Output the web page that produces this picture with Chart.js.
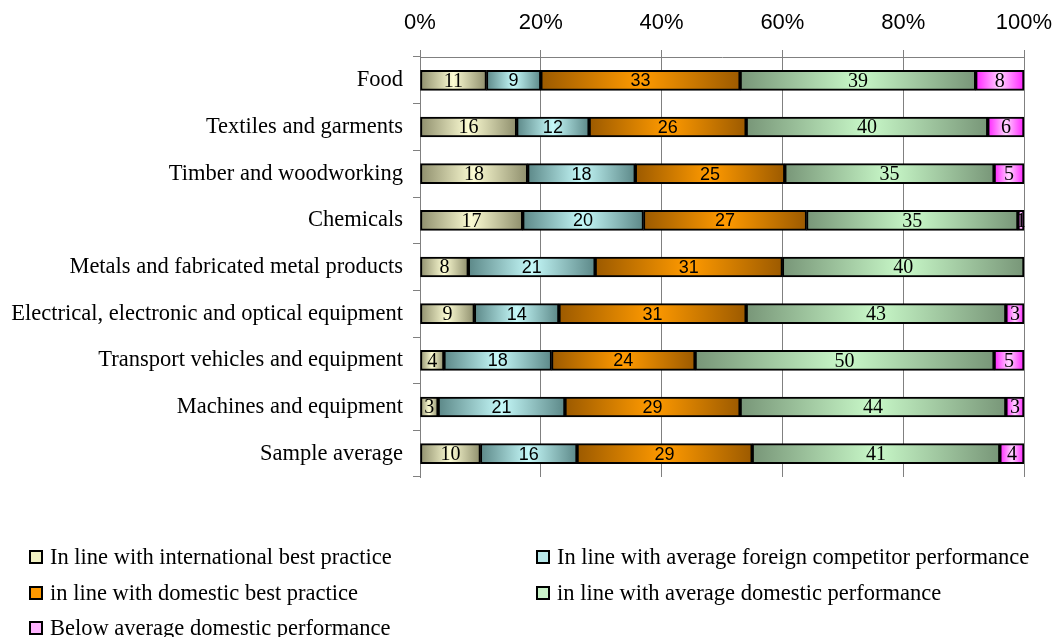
<!DOCTYPE html>
<html>
<head>
<meta charset="utf-8">
<script src="https://cdn.jsdelivr.net/npm/chart.js@4/dist/chart.umd.min.js"></script>
<style>
  html, body { margin: 0; padding: 0; background: #fff; }
  #wrap { width: 1055px; height: 637px; position: relative; }
</style>
</head>
<body>
<div id="wrap"><canvas id="chart" width="1055" height="637"></canvas></div>
<script>
const categories = [
  'Food',
  'Textiles and garments',
  'Timber and woodworking',
  'Chemicals',
  'Metals and fabricated metal products',
  'Electrical, electronic and optical equipment',
  'Transport vehicles and equipment',
  'Machines and equipment',
  'Sample average'
];
const intlBest     = [11, 16, 18, 17, 8, 9, 4, 3, 10];
const foreignAvg   = [9, 12, 18, 20, 21, 14, 18, 21, 16];
const domesticBest = [33, 26, 25, 27, 31, 31, 24, 29, 29];
const domesticAvg  = [39, 40, 35, 35, 40, 43, 50, 44, 41];
const belowAvg     = [8, 6, 5, 1, 0, 3, 5, 3, 4];
const tickLabels   = ['0%', '20%', '40%', '60%', '80%', '100%'];

const seriesNames = [
  'In line with international best practice',
  'In line with average foreign competitor performance',
  'in line with domestic best practice',
  'in line with average domestic performance',
  'Below average domestic performance'
];
const series = [intlBest, foreignAvg, domesticBest, domesticAvg, belowAvg];
// [edge, middle] colours of each bar gradient
const palette = [
  ['#8e8e6c', '#fbfbd2'],
  ['#5c8888', '#c4f8f8'],
  ['#9c5a00', '#ff9a00'],
  ['#789678', '#c8f8c8'],
  ['#ff22ff', '#ffd4ff']
];
const legendFill = ['#f2f2c4', '#b8e8ea', '#ff9900', '#c8f2c8', '#ffb4ff'];
const serifSeries = [true, false, false, true, true];

// 100% stacked: each row is scaled to its own total
const totals = categories.map((c, j) => series.reduce((s, arr) => s + arr[j], 0));
const shares = series.map(arr => arr.map((v, j) => v / totals[j] * 100));

function gradientFill(i) {
  return function (ctx) {
    const chart = ctx.chart;
    const x = chart.scales.x;
    if (ctx.type !== 'data' || !x || !chart.chartArea) return palette[i][1];
    const j = ctx.dataIndex;
    let start = 0;
    for (let k = 0; k < i; k++) start += shares[k][j];
    const x0 = x.getPixelForValue(start);
    const x1 = x.getPixelForValue(start + shares[i][j]);
    if (!isFinite(x0) || !isFinite(x1) || x1 - x0 < 1) return palette[i][1];
    const g = chart.ctx.createLinearGradient(x0, 0, x1, 0);
    g.addColorStop(0, palette[i][0]);
    g.addColorStop(0.5, palette[i][1]);
    g.addColorStop(1, palette[i][0]);
    return g;
  };
}

const barLabels = {
  id: 'barLabels',
  afterDatasetsDraw(chart) {
    const c = chart.ctx;
    c.save();
    c.textAlign = 'center';
    c.textBaseline = 'middle';
    c.fillStyle = '#000';
    chart.data.datasets.forEach((ds, i) => {
      const meta = chart.getDatasetMeta(i);
      c.font = serifSeries[i] ? '20px "Liberation Serif"' : '18px "Liberation Sans"';
      meta.data.forEach((bar, j) => {
        const v = series[i][j];
        if (!v) return;
        c.fillText(String(v), (bar.x + bar.base) / 2, bar.y + 1);
      });
    });
    c.restore();
  }
};

const legendBlock = {
  id: 'legendBlock',
  afterDraw(chart) {
    const c = chart.ctx;
    const cols = [30, 537];
    const rows = [557, 593, 628];
    c.save();
    c.font = '22.5px "Liberation Serif"';
    c.textBaseline = 'middle';
    c.textAlign = 'left';
    seriesNames.forEach((name, i) => {
      const bx = cols[i % 2];
      const by = rows[Math.floor(i / 2)];
      c.fillStyle = legendFill[i];
      c.fillRect(bx, by - 6, 12, 12);
      c.lineWidth = 2;
      c.strokeStyle = '#000';
      c.strokeRect(bx, by - 6, 12, 12);
      c.fillStyle = '#000';
      c.fillText(name, bx + 20, by + 1);
    });
    c.restore();
  }
};

new Chart(document.getElementById('chart').getContext('2d'), {
  type: 'bar',
  data: {
    labels: categories,
    datasets: series.map((arr, i) => ({
      label: seriesNames[i],
      data: shares[i],
      backgroundColor: gradientFill(i),
      borderColor: '#000',
      borderWidth: 2,
      borderSkipped: false,
      barThickness: 20
    }))
  },
  options: {
    indexAxis: 'y',
    responsive: false,
    animation: false,
    layout: { padding: { left: 0, right: 31, top: 0, bottom: 160 } },
    plugins: { legend: { display: false }, tooltip: { enabled: false } },
    scales: {
      x: {
        position: 'top',
        stacked: true,
        min: 0,
        max: 100,
        afterFit(scale) {
          scale.height = 57;
          scale.paddingLeft = 0;
          scale.paddingRight = 0;
        },
        ticks: {
          stepSize: 20,
          padding: 14,
          color: '#000',
          font: { family: '"Liberation Sans"', size: 22 },
          callback: (v) => tickLabels[v / 20]
        },
        grid: { color: '#808080', lineWidth: 1, tickLength: 7 },
        border: { color: '#808080', width: 1 }
      },
      y: {
        stacked: true,
        afterFit(scale) { scale.width = 420; },
        ticks: {
          padding: 10,
          color: '#000',
          font: { family: '"Liberation Serif"', size: 22.5 }
        },
        grid: { drawOnChartArea: false, color: '#808080', tickLength: 7, offset: true },
        border: { color: '#808080', width: 1 }
      }
    }
  },
  plugins: [barLabels, legendBlock]
});
</script>
</body>
</html>
